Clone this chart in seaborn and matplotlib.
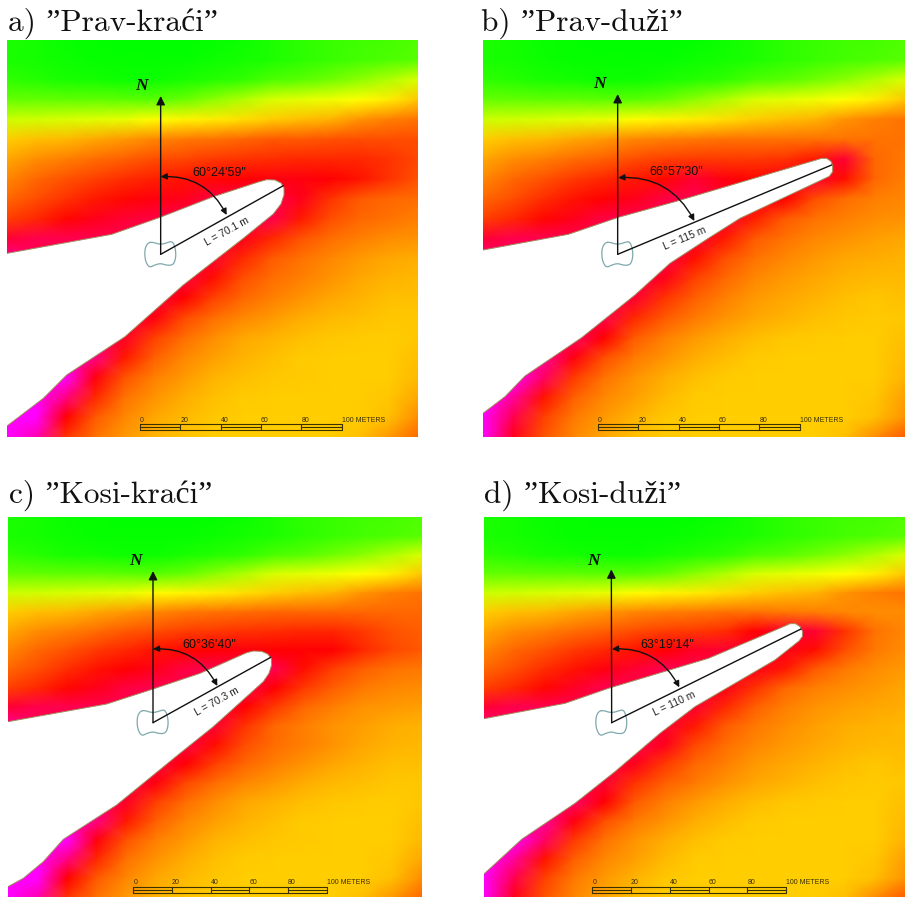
import numpy as np
import matplotlib
matplotlib.use("Agg")
import matplotlib.pyplot as plt
from matplotlib.colors import LinearSegmentedColormap
from matplotlib.patches import FancyArrowPatch
import seaborn as sns

W, H = 905, 897

TITLES = ['a) \u201dPrav-kra\u0107i\u201d', 'b) \u201dPrav-du\u017ei\u201d',
          'c) \u201dKosi-kra\u0107i\u201d', 'd) \u201dKosi-du\u017ei\u201d']
ANGLES = ['60\u00b024\'59"', '66\u00b057\'30"', '60\u00b036\'40"', '63\u00b019\'14"']
LENGTHS = ['L = 70.1 m', 'L = 115 m', 'L = 70.3 m', 'L = 110 m']
SCALE_TICKS = [0, 20, 40, 60, 80, 100]

TOP_ROWS = [
    [.12, .08, .04, .02, 0, 0, 0, .02, .06, .12, .18, .22, .25, .28, .32],
    [.1, .08, .05, .03, .02, .02, .03, .05, .08, .12, .18, .22, .27, .3, .35],
    [.2, .15, .1, .08, .06, .06, .1, .15, .2, .3, .35, .45, .55, .7, .85],
    [.4, .4, .38, .38, .36, .35, .42, .55, .7, .85, .9, .95, 1.0, 1.15, 1.45],
    [.8, .82, .85, .88, .92, 1.02, 1.08, 1.15, 1.25, 1.4, 1.5, 1.6, 1.85, 2.0, 2.1],
]
LOWER_SHORT = [
    [3.3, 3.3, 3.3, 3.3, 3.3, 3.25, 3.0, 2.5, 2.2, 2.0, 1.85, 1.7, 1.6, 1.5, 1.5],
    [3.3, 3.3, 3.3, 3.3, 3.3, 3.05, 2.45, 2.15, 1.95, 1.8, 1.65, 1.55, 1.5, 1.45, 1.45],
    [3.4, 3.4, 3.4, 3.4, 3.15, 2.5, 2.15, 1.9, 1.7, 1.6, 1.5, 1.45, 1.42, 1.4, 1.45],
    [3.6, 3.6, 3.6, 3.5, 2.8, 2.25, 1.95, 1.75, 1.6, 1.5, 1.42, 1.4, 1.4, 1.4, 1.5],
    [4, 4, 4, 3.05, 2.35, 2.0, 1.8, 1.6, 1.5, 1.45, 1.42, 1.4, 1.4, 1.4, 1.55],
    [4, 4, 3.5, 2.7, 2.1, 1.85, 1.65, 1.5, 1.42, 1.4, 1.4, 1.4, 1.4, 1.45, 1.7],
    [4, 4, 3.0, 2.3, 1.95, 1.7, 1.55, 1.45, 1.4, 1.4, 1.4, 1.4, 1.4, 1.5, 1.9],
    [4, 3.7, 2.6, 2.1, 1.8, 1.6, 1.48, 1.4, 1.4, 1.4, 1.4, 1.4, 1.5, 1.8, 2.2],
]
LOWER_LONG = [
    [3.4, 3.4, 3.4, 3.4, 3.0, 2.3, 2.0, 1.8, 1.65, 1.52, 1.45, 1.42, 1.4, 1.4, 1.5],
    [3.6, 3.6, 3.6, 3.05, 2.4, 2.05, 1.85, 1.65, 1.52, 1.42, 1.4, 1.4, 1.4, 1.4, 1.55],
    [4, 4, 3.4, 2.55, 2.1, 1.85, 1.65, 1.5, 1.42, 1.4, 1.4, 1.4, 1.4, 1.4, 1.6],
    [4, 3.6, 2.85, 2.25, 1.95, 1.75, 1.55, 1.42, 1.4, 1.4, 1.4, 1.4, 1.4, 1.45, 1.75],
    [4, 3.3, 2.5, 2.05, 1.8, 1.6, 1.45, 1.4, 1.4, 1.4, 1.4, 1.4, 1.4, 1.5, 1.85],
    [4, 3.1, 2.35, 1.95, 1.7, 1.5, 1.42, 1.4, 1.4, 1.4, 1.4, 1.4, 1.5, 1.9, 2.3],
]
FIELD_A = TOP_ROWS + [
    [1.4, 1.5, 1.55, 1.7, 1.8, 1.95, 2.05, 2.1, 2.2, 2.3, 2.3, 2.35, 2.4, 2.4, 2.4],
    [1.7, 1.9, 2.0, 2.15, 2.25, 2.4, 2.45, 2.55, 2.6, 2.65, 2.7, 2.7, 2.7, 2.6, 2.45],
    [1.95, 2.2, 2.35, 2.5, 2.65, 2.75, 2.85, 2.95, 3.0, 3.05, 3.05, 3.0, 2.85, 2.6, 2.35],
    [2.2, 2.4, 2.6, 2.8, 2.95, 3.05, 3.1, 3.25, 3.3, 3.3, 3.1, 2.6, 2.3, 2.2, 2.15],
    [2.5, 2.7, 2.95, 3.1, 3.2, 3.25, 3.3, 3.3, 3.3, 3.3, 2.8, 2.4, 2.2, 2.1, 2.0],
    [3.2, 3.3, 3.3, 3.3, 3.3, 3.3, 3.3, 3.2, 3.1, 2.7, 2.35, 2.15, 2.0, 1.9, 1.85],
    [3.6, 3.3, 3.3, 3.3, 3.3, 3.3, 3.3, 3.2, 2.7, 2.3, 2.1, 1.95, 1.8, 1.7, 1.65],
    [3.3, 3.3, 3.3, 3.3, 3.3, 3.3, 3.25, 2.9, 2.4, 2.15, 2.0, 1.85, 1.7, 1.6, 1.55],
] + LOWER_SHORT
FIELD_B = TOP_ROWS + [
    [1.4, 1.5, 1.55, 1.7, 1.8, 1.95, 2.0, 2.05, 2.1, 2.1, 2.1, 2.1, 2.1, 2.1, 2.1],
    [1.7, 1.9, 2.0, 2.15, 2.25, 2.4, 2.5, 2.55, 2.55, 2.55, 2.6, 2.8, 3.2, 2.2, 2.05],
    [1.95, 2.2, 2.35, 2.55, 2.7, 2.8, 2.95, 3.2, 3.05, 2.95, 3.1, 3.2, 2.9, 2.2, 2.0],
    [2.2, 2.4, 2.65, 2.85, 3.0, 3.1, 3.25, 3.3, 3.2, 3.1, 3.0, 2.4, 2.15, 2.0, 1.95],
    [2.5, 2.7, 2.95, 3.1, 3.25, 3.3, 3.3, 3.3, 3.2, 2.75, 2.3, 2.1, 2.0, 1.9, 1.85],
    [3.2, 3.3, 3.3, 3.3, 3.3, 3.3, 3.3, 3.2, 2.8, 2.3, 2.1, 1.95, 1.85, 1.75, 1.7],
    [3.5, 3.3, 3.3, 3.3, 3.3, 3.3, 3.3, 2.9, 2.4, 2.1, 1.95, 1.8, 1.7, 1.65, 1.6],
    [3.3, 3.3, 3.3, 3.3, 3.3, 3.3, 3.1, 2.5, 2.2, 1.95, 1.8, 1.7, 1.6, 1.55, 1.55],
    [3.3, 3.3, 3.3, 3.3, 3.3, 3.2, 2.6, 2.25, 2.0, 1.8, 1.7, 1.6, 1.5, 1.45, 1.5],
    [3.3, 3.3, 3.3, 3.3, 3.3, 2.7, 2.3, 2.05, 1.85, 1.7, 1.6, 1.5, 1.45, 1.42, 1.45],
] + LOWER_LONG
FIELD_C = TOP_ROWS + [
    [1.4, 1.5, 1.55, 1.7, 1.8, 1.95, 2.05, 2.1, 2.15, 2.2, 2.2, 2.2, 2.2, 2.2, 2.2],
    [1.7, 1.9, 2.0, 2.15, 2.3, 2.4, 2.5, 2.55, 2.6, 2.65, 2.7, 2.7, 2.55, 2.35, 2.25],
    [1.95, 2.2, 2.35, 2.55, 2.7, 2.85, 2.95, 3.0, 3.05, 3.0, 3.0, 3.0, 2.7, 2.45, 2.3],
    [2.2, 2.4, 2.65, 2.85, 3.0, 3.1, 3.25, 3.3, 3.3, 3.3, 2.9, 2.5, 2.25, 2.1, 2.05],
    [2.5, 2.7, 2.95, 3.1, 3.25, 3.3, 3.3, 3.3, 3.3, 3.0, 2.55, 2.25, 2.05, 1.95, 1.9],
    [3.2, 3.3, 3.3, 3.3, 3.3, 3.3, 3.3, 3.3, 3.0, 2.55, 2.2, 2.0, 1.85, 1.8, 1.75],
    [3.6, 3.3, 3.3, 3.3, 3.3, 3.3, 3.3, 3.2, 2.6, 2.2, 2.0, 1.85, 1.75, 1.65, 1.6],
    [3.3, 3.3, 3.3, 3.3, 3.3, 3.3, 3.25, 2.9, 2.4, 2.15, 2.0, 1.85, 1.7, 1.6, 1.55],
] + LOWER_SHORT
FIELD_D = TOP_ROWS + [
    [1.4, 1.5, 1.55, 1.7, 1.8, 1.95, 2.0, 2.05, 2.1, 2.1, 2.05, 2.0, 1.95, 1.9, 1.9],
    [1.7, 1.9, 2.0, 2.15, 2.25, 2.4, 2.5, 2.55, 2.65, 3.0, 3.2, 3.2, 2.6, 2.1, 1.95],
    [1.95, 2.2, 2.35, 2.55, 2.7, 2.85, 3.0, 3.15, 3.2, 3.2, 3.1, 2.9, 2.4, 2.05, 1.9],
    [2.2, 2.4, 2.65, 2.85, 3.05, 3.2, 3.3, 3.3, 3.2, 3.1, 2.8, 2.3, 2.05, 1.9, 1.8],
    [2.5, 2.7, 2.95, 3.15, 3.3, 3.3, 3.3, 3.3, 3.1, 2.6, 2.2, 2.0, 1.9, 1.8, 1.7],
    [3.2, 3.3, 3.3, 3.3, 3.3, 3.3, 3.3, 3.2, 2.7, 2.25, 2.0, 1.85, 1.75, 1.7, 1.65],
    [3.5, 3.3, 3.3, 3.3, 3.3, 3.3, 3.2, 2.8, 2.3, 2.05, 1.9, 1.75, 1.65, 1.6, 1.55],
    [3.3, 3.3, 3.3, 3.3, 3.3, 3.3, 3.1, 2.45, 2.15, 1.95, 1.8, 1.7, 1.6, 1.55, 1.55],
    [3.3, 3.3, 3.3, 3.3, 3.3, 3.1, 2.55, 2.2, 2.0, 1.8, 1.7, 1.6, 1.5, 1.45, 1.5],
    [3.3, 3.3, 3.3, 3.3, 3.2, 2.6, 2.25, 2.05, 1.85, 1.7, 1.6, 1.5, 1.45, 1.42, 1.45],
] + LOWER_LONG
FIELDS = [FIELD_A, FIELD_B, FIELD_C, FIELD_D]

# outlines, read in 3x picture units relative to each panel's crop
COAST_A = [(21, 760), (335, 703), (480, 652), (640, 590), (775, 546), (800, 539), (825, 540), (843, 549), (852, 563),
           (852, 585), (843, 612), (820, 642), (730, 715), (640, 785), (550, 855), (375, 1010), (200, 1125),
           (130, 1195), (21, 1278)]
COAST_B = [(24, 750), (280, 703), (430, 652), (600, 605), (1040, 475), (1055, 475), (1068, 484), (1073, 497),
           (1073, 515), (1063, 529), (795, 655), (700, 715), (585, 790), (480, 885), (320, 1013), (150, 1128),
           (90, 1190), (24, 1240)]
COAST_C = [(24, 755), (320, 702), (450, 660), (600, 610), (740, 548), (760, 543), (785, 544), (803, 552), (814, 565),
           (815, 585), (807, 610), (790, 635), (640, 770), (540, 850), (350, 1005), (190, 1108), (130, 1175),
           (70, 1225), (24, 1250)]
COAST_D = [(27, 746), (270, 700), (400, 655), (700, 565), (925, 470), (945, 461), (962, 461), (975, 470), (983, 485),
           (982, 500), (972, 513), (900, 570), (660, 710), (555, 790), (420, 905), (300, 1000), (140, 1108), (27, 1212)]
COASTS = [COAST_A, COAST_B, COAST_C, COAST_D]

PIER = [(-36, -36), (-22, -36), (-8, -31), (8, -31), (22, -36), (35, -39), (43, -22), (46, 0), (43, 20), (36, 32),
        (18, 33), (0, 27), (-18, 32), (-34, 40), (-45, 22), (-48, 0), (-46, -22), (-36, -36)]

CROPS = [(0, 0), (475, 0), (0, 470), (475, 470)]
PANELS = [(7, 40, 418, 437), (483, 40, 905, 437), (8, 517, 422, 897), (484, 517, 905, 897)]
ORIGINS = [(482, 763), (428, 763), (459, 758), (410, 758)]
NORTH_TIPS = [(482, 288), (428, 282), (459, 303), (409, 298)]
NORTH_TEXT = [(425, 258), (373, 252), (405, 272), (356, 272)]
BAR_ENDS = [(850, 557), (1070, 495), (812, 562), (978, 477)]
ARC_START = [(482, 530), (430, 533), (459, 537), (411, 537)]
ARC_END = [(680, 645), (658, 663), (652, 648), (613, 652)]
ANGLE_POS = [(658, 520), (605, 515), (628, 525), (578, 525)]
LENGTH_POS = [(680, 695), (628, 716), (650, 695), (598, 700)]
LENGTH_ROT = [29, 23, 29, 25]
SCALE_X = [(420, 1025), (369, 974), (400, 980), (352, 933)]
SCALE_Y = [(1260, 1272, 1291), (1260, 1272, 1291), (1238, 1250, 1268), (1238, 1250, 1268)]
TITLE_POS = [(8, 31), (481, 31), (9, 503), (484, 503)]

sns.set_theme(style="white")
plt.rcParams['font.family'] = ['Liberation Sans', 'DejaVu Sans']
cmap = LinearSegmentedColormap.from_list(
    "field", [(0, (0, 1, 0)), (.25, (1, 1, 0)), (.75, (1, 0, 0)), (1, (1, 0, 1))])


def chaikin(pts, rounds=2):
    pts = np.asarray(pts, dtype=float)
    for _ in range(rounds):
        a, b = pts[:-1], pts[1:]
        pts = np.empty((2 * len(a) + 1, 2))
        pts[:-1:2] = .75 * a + .25 * b
        pts[1:-1:2] = .25 * a + .75 * b
        pts[-1] = pts[0]
    return pts


fig = plt.figure(figsize=(W / 100, H / 100), dpi=100, facecolor="white")
LINE = "#111111"
SCALE = "#3a3000"

for i in range(4):
    l, t, r, b = PANELS[i]
    ax = fig.add_axes([l / W, 1 - b / H, (r - l) / W, (b - t) / H])
    data = np.array(FIELDS[i], dtype=float)
    sns.heatmap(data, ax=ax, cmap=cmap, vmin=0, vmax=4, cbar=False,
                xticklabels=False, yticklabels=False, shading="gouraud")
    ny, nx = data.shape
    ax.set_xlim(0, nx - 1)
    ax.set_ylim(ny - 1, 0)
    ox, oy = CROPS[i]

    def P(pt, ox=ox, oy=oy, l=l, t=t, r=r, b=b, nx=nx, ny=ny):
        px = ox + pt[0] / 3
        py = oy + pt[1] / 3
        return (px - l) / (r - l) * (nx - 1), (py - t) / (b - t) * (ny - 1)

    coast = np.array([P(p) for p in COASTS[i]])
    ax.fill(coast[:, 0], coast[:, 1], facecolor="white", edgecolor="none", zorder=3)
    ax.plot(coast[:, 0], coast[:, 1], color="#a08c5c", lw=0.7, zorder=4)

    oxy = ORIGINS[i]
    pier = chaikin([(oxy[0] + dx, oxy[1] + dy) for dx, dy in PIER])
    pier = np.array([P(p) for p in pier])
    ax.plot(pier[:, 0], pier[:, 1], color="#7fa8ad", lw=0.9, zorder=5)

    o = P(oxy)
    ax.add_patch(FancyArrowPatch(o, P(NORTH_TIPS[i]), arrowstyle="-|>", mutation_scale=13,
                                 color=LINE, lw=1.0, shrinkA=0, shrinkB=0, zorder=6))
    e = P(BAR_ENDS[i])
    ax.plot([o[0], e[0]], [o[1], e[1]], color=LINE, lw=1.0, zorder=6)
    ax.add_patch(FancyArrowPatch(P(ARC_START[i]), P(ARC_END[i]), arrowstyle="<|-|>", mutation_scale=9,
                                 connectionstyle="arc3,rad=-0.32", color=LINE, lw=1.0,
                                 shrinkA=0, shrinkB=0, zorder=6))
    ax.text(*P(NORTH_TEXT[i]), "N", family="Liberation Serif", style="italic", weight="bold",
            fontsize=12.5, ha="center", va="center", color="#111111", zorder=7)
    ax.text(*P(ANGLE_POS[i]), ANGLES[i], fontsize=9, ha="center", va="center", color="#111111", zorder=7)
    ax.text(*P(LENGTH_POS[i]), LENGTHS[i], fontsize=7.5, ha="center", va="center", rotation=LENGTH_ROT[i],
            rotation_mode="anchor", color="#222222", zorder=7)

    x0, x1 = SCALE_X[i]
    ty, y0, y1 = SCALE_Y[i]
    ym = (y0 + y1) / 2
    xs = [x0 + (x1 - x0) * m / SCALE_TICKS[-1] for m in SCALE_TICKS]
    for yy in (y0, y1):
        p0, p1 = P((x0, yy)), P((x1, yy))
        ax.plot([p0[0], p1[0]], [p0[1], p1[1]], color=SCALE, lw=0.8, zorder=6)
    for k, xx in enumerate(xs):
        p0, p1 = P((xx, y0)), P((xx, y1))
        ax.plot([p0[0], p1[0]], [p0[1], p1[1]], color=SCALE, lw=0.8, zorder=6)
        label = f"{SCALE_TICKS[k]}" if k < len(xs) - 1 else f"{SCALE_TICKS[k]} METERS"
        ax.text(*P((xx, ty)), label, fontsize=5, ha="left", va="center", color="#3a3000", zorder=7)
        if k < len(xs) - 1 and k % 2 == 0:
            p0, p1 = P((xx, ym)), P((xs[k + 1], ym))
            ax.plot([p0[0], p1[0]], [p0[1], p1[1]], color=SCALE, lw=0.8, zorder=6)
    ax.set_axis_off()

    tx, ty2 = TITLE_POS[i]
    fig.text(tx / W, 1 - ty2 / H, TITLES[i], family=['cmr10', 'Liberation Serif', 'DejaVu Serif'],
             fontsize=22.6, ha="left", va="baseline", color="#111111")

fig.savefig("out.png", dpi=100, facecolor="white")
